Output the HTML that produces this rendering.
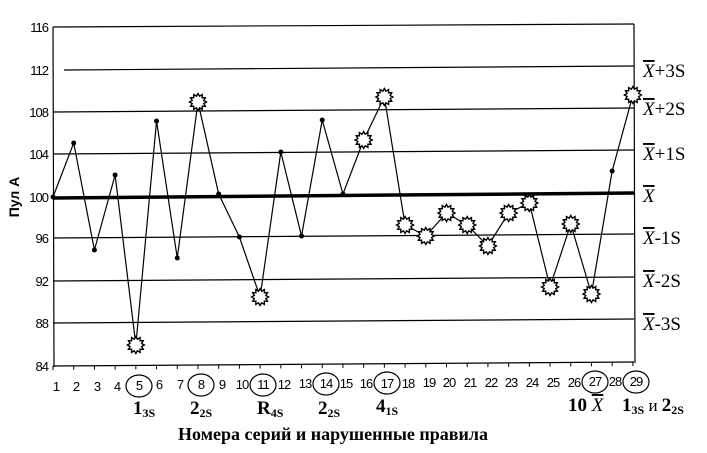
<!DOCTYPE html>
<html><head><meta charset="utf-8"><style>
html,body{margin:0;padding:0;background:#fff;}
svg{display:block;}
.t{font-family:"Liberation Sans",sans-serif;font-size:13px;letter-spacing:-1px;}
.s{font-family:"Liberation Serif",serif;font-size:19px;}
.b{font-family:"Liberation Serif",serif;font-weight:bold;}
</style></head><body>
<svg id="c" width="707" height="453" viewBox="0 0 707 453" xmlns="http://www.w3.org/2000/svg">
<defs><polygon id="st" points="" fill="#fff" stroke="#000" stroke-width="1.4"/></defs>
<g stroke="#000" stroke-width="1.2">
<line x1="53" y1="27" x2="634" y2="24"/>
<line x1="64" y1="70" x2="634" y2="66"/>
<line x1="53" y1="112" x2="634" y2="108"/>
<line x1="53" y1="154" x2="634" y2="150"/>
<line x1="53" y1="238" x2="634" y2="234"/>
<line x1="53" y1="281" x2="634" y2="277"/>
<line x1="53" y1="323" x2="634" y2="319"/>
<line x1="53" y1="366" x2="634" y2="362"/>
<line x1="53" y1="27" x2="54" y2="367"/>
<line x1="634" y1="24" x2="635" y2="363"/>
</g>
<line x1="53" y1="198" x2="634" y2="193" stroke="#000" stroke-width="3.5"/>
<g id="ticks" stroke="#000" stroke-width="1"></g>
<polyline id="ln" fill="none" stroke="#000" stroke-width="1.2" points=""/>
<g id="pts"></g>
<g class="t" text-anchor="end">
<text x="48" y="32">116</text><text x="48" y="75">112</text><text x="48" y="117">108</text>
<text x="48" y="159">104</text><text x="48" y="202">100</text><text x="48" y="243">96</text>
<text x="48" y="286">92</text><text x="48" y="328">88</text><text x="48" y="371">84</text>
</g>
<text class="t" transform="translate(19,197) rotate(-90)" text-anchor="middle" style="font-weight:bold;font-size:14px;letter-spacing:0">Пул А</text>
<g class="t" text-anchor="middle">
<text x="56" y="391">1</text><text x="76" y="391">2</text><text x="97" y="391">3</text><text x="117" y="391">4</text>
<text x="139" y="390">5</text><text x="159" y="389">6</text><text x="180" y="389">7</text><text x="201" y="389">8</text>
<text x="222" y="389">9</text><text x="242" y="389">10</text><text x="263" y="389">11</text><text x="284" y="389">12</text>
<text x="305" y="388">13</text><text x="326" y="388">14</text><text x="346" y="388">15</text><text x="366" y="388">16</text>
<text x="387" y="388">17</text><text x="408" y="388">18</text><text x="429" y="387">19</text><text x="449" y="387">20</text>
<text x="470" y="387">21</text><text x="491" y="387">22</text><text x="511" y="387">23</text><text x="532" y="387">24</text>
<text x="553" y="387">25</text><text x="574" y="387">26</text><text x="595" y="386">27</text><text x="615" y="386">28</text>
<text x="636" y="386">29</text>
</g>
<g fill="none" stroke="#000" stroke-width="1.2">
<ellipse cx="139" cy="386" rx="13" ry="11"/><ellipse cx="201" cy="385" rx="13" ry="11"/>
<ellipse cx="263" cy="385" rx="13" ry="11"/><ellipse cx="326" cy="384" rx="13" ry="11"/>
<ellipse cx="387" cy="383" rx="13" ry="11"/><ellipse cx="595" cy="382" rx="13" ry="11"/>
<ellipse cx="636" cy="382" rx="13" ry="11"/>
</g>
<g class="b" font-size="19">
<text x="133" y="414">1<tspan font-size="12" dy="3">3S</tspan></text>
<text x="190" y="414">2<tspan font-size="12" dy="3">2S</tspan></text>
<text x="257" y="414">R<tspan font-size="12" dy="3">4S</tspan></text>
<text x="318" y="414">2<tspan font-size="12" dy="3">2S</tspan></text>
<text x="376" y="412">4<tspan font-size="12" dy="3">1S</tspan></text>
<text x="568" y="411">10 <tspan font-weight="normal" font-style="italic" text-decoration="overline">X</tspan></text>
<text x="622" y="411">1<tspan font-size="12" dy="3">3S</tspan><tspan dy="-3" font-weight="normal" font-size="17"> и </tspan>2<tspan font-size="12" dy="3">2S</tspan></text>
</g>
<text class="b" x="333" y="440" text-anchor="middle" font-size="18">Номера серий и нарушенные правила</text>
<g class="s">
<text x="643" y="77"><tspan font-style="italic" text-decoration="overline">X</tspan>+3S</text>
<text x="643" y="115"><tspan font-style="italic" text-decoration="overline">X</tspan>+2S</text>
<text x="643" y="160"><tspan font-style="italic" text-decoration="overline">X</tspan>+1S</text>
<text x="643" y="202" font-style="italic" text-decoration="overline">X</text>
<text x="643" y="244"><tspan font-style="italic" text-decoration="overline">X</tspan>-1S</text>
<text x="643" y="287"><tspan font-style="italic" text-decoration="overline">X</tspan>-2S</text>
<text x="643" y="330"><tspan font-style="italic" text-decoration="overline">X</tspan>-3S</text>
</g>
<script>
(function(){
var ys=[197,143,250,175,345,121,258,102,194,237,297,152,236,120,194,140,97,225,236,213,225,246,213,203,287,224,294,171,95];
var star=[5,8,11,16,17,18,19,20,21,22,23,24,25,26,27,29];
var p=[];for(var k=0;k<24;k++){var a=k*Math.PI/12,r=k%2?6:8.5;p.push((r*Math.cos(a)).toFixed(2)+","+(r*Math.sin(a)).toFixed(2));}
document.getElementById('st').setAttribute('points',p.join(' '));
var ns="http://www.w3.org/2000/svg",pts=[],g=document.getElementById('pts'),tk=document.getElementById('ticks');
for(var i=0;i<29;i++){var x=53+i*20.71,y=ys[i];pts.push(x+","+y);
var t=document.createElementNS(ns,'line');t.setAttribute('x1',x);t.setAttribute('x2',x);t.setAttribute('y1',366-i*0.14);t.setAttribute('y2',370-i*0.14);tk.appendChild(t);
if(star.indexOf(i+1)>=0){var u=document.createElementNS(ns,'use');u.setAttribute('href','#st');u.setAttribute('x',x);u.setAttribute('y',y);g.appendChild(u);}
else{var c=document.createElementNS(ns,'circle');c.setAttribute('cx',x);c.setAttribute('cy',y);c.setAttribute('r',2.5);g.appendChild(c);}}
document.getElementById('ln').setAttribute('points',pts.join(' '));
})();
</script>
</svg>
</body></html>
